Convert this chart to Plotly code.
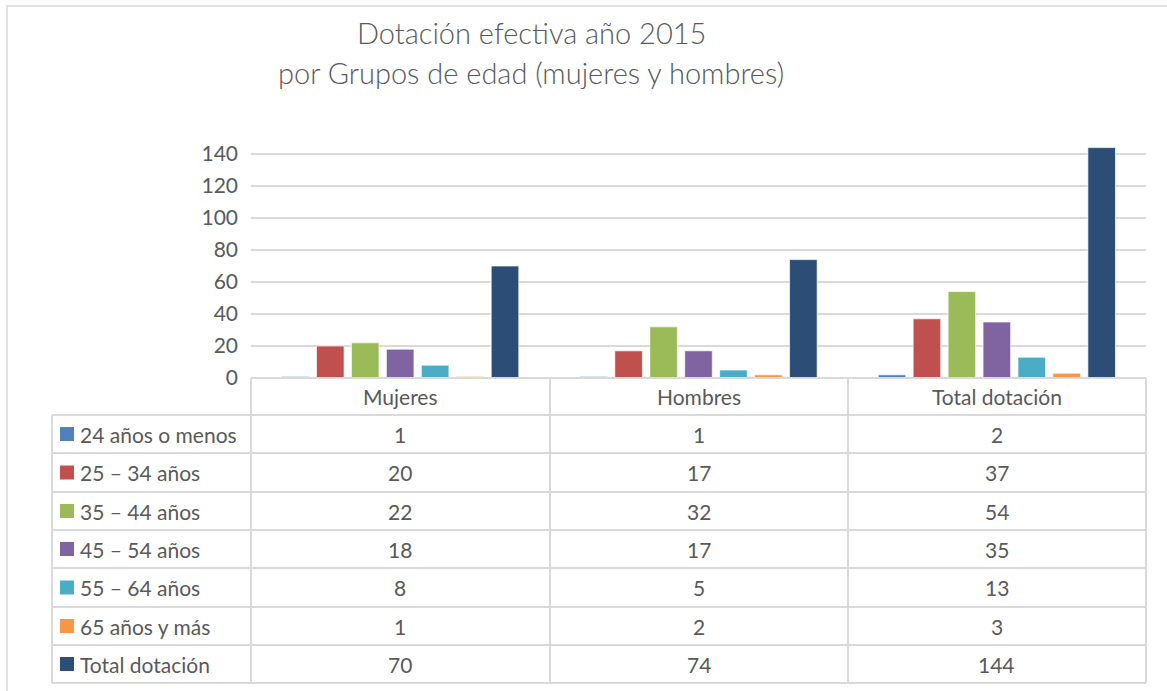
import plotly.graph_objects as go

categorias = ["Mujeres", "Hombres", "Total dotación"]
grupos = ["24 años o menos", "25 – 34 años", "35 – 44 años", "45 – 54 años",
          "55 – 64 años", "65 años y más", "Total dotación"]
v_24 = [1, 1, 2]
v_25 = [20, 17, 37]
v_35 = [22, 32, 54]
v_45 = [18, 17, 35]
v_55 = [8, 5, 13]
v_65 = [1, 2, 3]
v_total = [70, 74, 144]
series = [v_24, v_25, v_35, v_45, v_55, v_65, v_total]
colores = ["#4F81BD", "#C0504D", "#9BBB59", "#8064A2", "#4BACC6", "#F79646", "#2C4D75"]
y_ticks = [0, 20, 40, 60, 80, 100, 120, 140]

W, H = 1167, 691
# plot area in pixels
L, R, T, B = 251, 1146, 144, 378
FONT = "Lato"
GRIS = "#595959"
LINEA = "#D9D9D9"


def px_x(X):
    return (X - L) / (R - L)


def px_y(Y):
    return (B - Y) / (B - T)


fig = go.Figure()
for nombre, vals, col in zip(grupos, series, colores):
    fig.add_trace(go.Bar(x=categorias, y=vals, name=nombre, marker_color=col,
                         marker_line=dict(color="rgba(255,255,255,0.7)", width=1),
                         showlegend=False))

shapes = []
annotations = []

# outer chart border
shapes.append(dict(type="rect", xref="paper", yref="paper",
                   x0=px_x(7), x1=px_x(1180), y0=px_y(700), y1=px_y(6),
                   line=dict(color=LINEA, width=1.5), layer="below"))

# data table grid
row_edges = [378, 415, 453, 492, 530, 568, 607, 645, 683]
col_x = [52, 251, 550, 848, 1146]
for i, Y in enumerate(row_edges):
    x0 = 251 if i == 0 else 52
    shapes.append(dict(type="line", xref="paper", yref="paper",
                       x0=px_x(x0), x1=px_x(1146), y0=px_y(Y), y1=px_y(Y),
                       line=dict(color=LINEA, width=2)))
for j, X in enumerate(col_x):
    y0 = 415 if j == 0 else 378
    shapes.append(dict(type="line", xref="paper", yref="paper",
                       x0=px_x(X), x1=px_x(X), y0=px_y(y0), y1=px_y(683),
                       line=dict(color=LINEA, width=2)))

tabla_font = dict(family=FONT, size=21, color=GRIS)

# header row
for cat in categorias:
    annotations.append(dict(x=cat, xref="x", y=px_y((row_edges[0] + row_edges[1]) / 2),
                            yref="paper", text=cat, showarrow=False,
                            xanchor="center", yanchor="middle", font=tabla_font))

# rows
for i, (nombre, vals, col) in enumerate(zip(grupos, series, colores)):
    yc = (row_edges[i + 1] + row_edges[i + 2]) / 2
    shapes.append(dict(type="rect", xref="paper", yref="paper",
                       x0=px_x(60), x1=px_x(74), y0=px_y(yc + 7), y1=px_y(yc - 7),
                       fillcolor=col, line=dict(width=0)))
    annotations.append(dict(x=px_x(78), xref="paper", y=px_y(yc), yref="paper",
                            text=nombre, showarrow=False, xanchor="left",
                            yanchor="middle", font=tabla_font))
    for cat, v in zip(categorias, vals):
        annotations.append(dict(x=cat, xref="x", y=px_y(yc), yref="paper",
                                text=str(v), showarrow=False,
                                xanchor="center", yanchor="middle", font=tabla_font))

# title
titulo_font = dict(family=FONT, size=29, color=GRIS, weight=300)
annotations.append(dict(x=px_x(531), xref="paper", y=px_y(33), yref="paper",
                        text="Dotación efectiva año 2015", showarrow=False,
                        xanchor="center", yanchor="middle", font=titulo_font))
annotations.append(dict(x=px_x(531), xref="paper", y=px_y(72), yref="paper",
                        text="por Grupos de edad (mujeres y hombres)", showarrow=False,
                        xanchor="center", yanchor="middle", font=titulo_font))

fig.update_layout(
    width=W, height=H,
    margin=dict(l=L, r=W - R, t=T, b=H - B, pad=0),
    paper_bgcolor="white", plot_bgcolor="white",
    barmode="group", bargap=0.18, bargroupgap=0.21,
    shapes=shapes, annotations=annotations,
    font=dict(family=FONT, color=GRIS),
)
fig.update_xaxes(showticklabels=False, showgrid=False, showline=False, zeroline=False,
                 range=[-0.5, 2.5])
fig.update_yaxes(range=[0, (B - T) / 32 * 20], tickvals=y_ticks, showgrid=True,
                 gridcolor=LINEA, gridwidth=1.5, zeroline=False, showline=False,
                 ticks="", ticklabelstandoff=12,
                 tickfont=dict(family=FONT, size=21, color=GRIS))

fig.write_html("out.html", config={"displayModeBar": False},
               post_script="document.body.style.margin='0';")
